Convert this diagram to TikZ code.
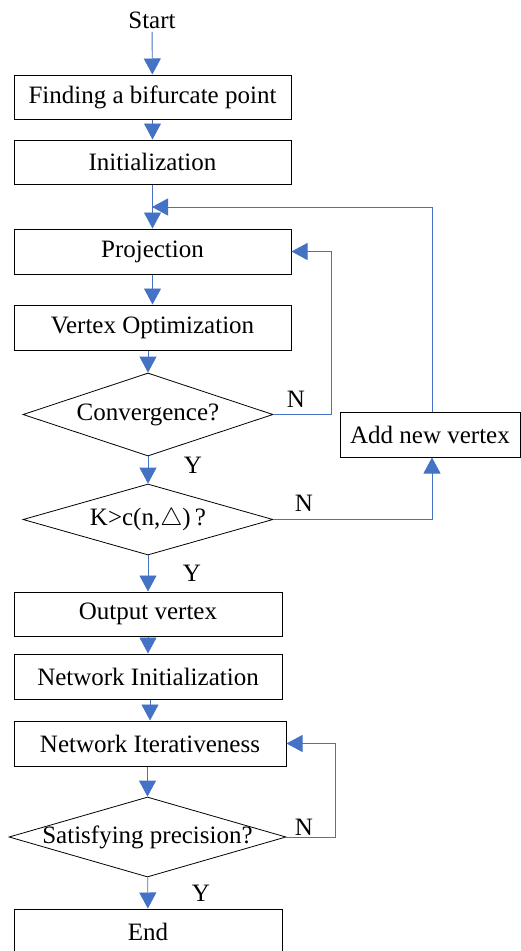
\documentclass[tikz,border=0pt]{standalone}
\usepackage{fontspec}
\setmainfont{Liberation Serif}
\usetikzlibrary{shapes.geometric,arrows.meta}
\definecolor{flowblue}{RGB}{68,114,196}

\begin{document}
\begin{tikzpicture}[x=1pt,y=-1pt,
	font=\fontsize{25}{30}\selectfont,
	box/.style={draw,line width=1pt,inner sep=0pt},
	dec/.style={draw,diamond,line width=0.8pt,inner sep=0pt},
	flow/.style={flowblue,line width=0.9pt,-{Triangle[width=17pt,length=16pt]}},
	loop/.style={flowblue,line width=0.9pt},
	lbl/.style={inner sep=0pt}]
	\useasboundingbox (0,0) rectangle (521,951);
	
	% main column
	\node (start) at (152,20) {Start};
	\node[box,minimum width=277pt,minimum height=44pt] (find) at (152.5,97) {Finding a bifurcate point};
	\node[box,minimum width=277pt,minimum height=44pt] (init) at (152.5,162) {Initialization};
	\node[box,minimum width=277pt,minimum height=45pt] (proj) at (152.5,251.5) {Projection};
	\node[box,minimum width=277pt,minimum height=45pt] (vopt) at (152.5,327.5) {Vertex Optimization};
	\node[dec,minimum width=250pt,minimum height=83pt] (conv) at (148,414.5) {\makebox[0pt]{Convergence?}};
	\node[dec,minimum width=250pt,minimum height=71pt] (kc) at (148,519.5) {\makebox[0pt]{K>c(n,$\triangle$)\,?}};
	\node[box,minimum width=268pt,minimum height=44pt] (outv) at (148,614) {Output vertex};
	\node[box,minimum width=268pt,minimum height=45pt] (netinit) at (148,676.5) {Network Initialization};
	\node[box,minimum width=272pt,minimum height=45pt] (netiter) at (150,743.5) {Network Iterativeness};
	\node[dec,minimum width=277pt,minimum height=80pt] (prec) at (147.5,837) {\makebox[0pt]{Satisfying precision?}};
	\node[box,minimum width=268pt,minimum height=46pt] (end) at (148,932) {End};
	
	% side box
	\node[box,minimum width=180pt,minimum height=45pt] (addv) at (430,434.5) {Add new vertex};
	\coordinate (join) at (152,207);
	
	% straight flow
	\draw[flow] (start) -- (find);
	\draw[flow] (find) -- (init);
	\draw[flow] (init) -- (proj);
	\draw[flow] (proj) -- (vopt);
	\draw[flow] (vopt.south -| conv.north) -- (conv.north);
	\draw[flow] (conv) -- (kc);
	\draw[flow] (kc) -- (outv);
	\draw[flow] (outv) -- (netinit);
	\draw[flow] (netinit.south -| netiter.north) -- (netiter.north);
	\draw[flow] (netiter.south -| prec.north) -- (prec.north);
	\draw[flow] (prec) -- (end);
	
	% loops
	\draw[flow] (conv.east) -- ++(58,0) |- (proj.east);
	\draw[flow] (kc.east) -| ([xshift=2pt]addv.south);
	\draw[loop] ([xshift=2pt]addv.north) |- (join);
	\draw[flow] ([xshift=20pt]join) -- (join);
	\draw[flow] (prec.east) -- ++(49,0) |- (netiter.east);
	
	% branch labels
	\node[lbl] (n1) at (296,399) {N};
	\node[lbl] (y1) at (193,465) {Y};
	\node[lbl] (n2) at (304,503) {N};
	\node[lbl] (y2) at (192,573) {Y};
	\node[lbl] (n3) at (304,827) {N};
	\node[lbl] (y3) at (201,893) {Y};
\end{tikzpicture}
\end{document}
